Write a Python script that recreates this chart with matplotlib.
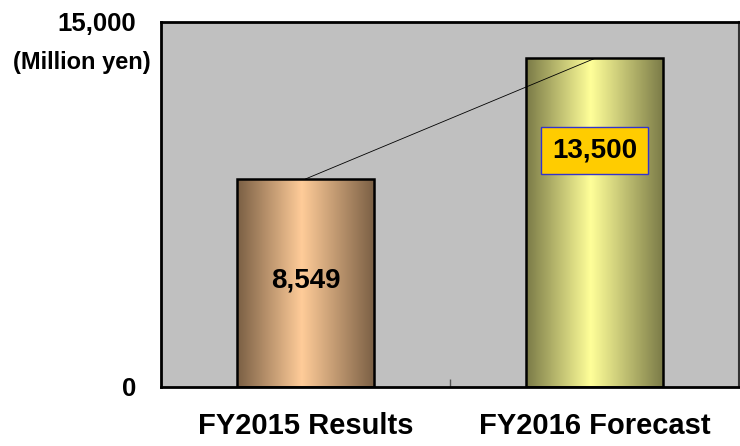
import numpy as np
import matplotlib
matplotlib.use("Agg")
import matplotlib.pyplot as plt
from matplotlib.colors import LinearSegmentedColormap, to_rgb
from matplotlib.patches import Rectangle

categories = ["FY2015 Results", "FY2016 Forecast"]
values = [8549, 13500]
y_ticks = [0, 15000]
y_tick_labels = ["0", "15,000"]
unit_label = "(Million yen)"

bar_edge_colors = ["#7A5F44", "#7A7A47"]
bar_center_colors = ["#FFCC99", "#FFFF99"]

plt.rcParams['font.family'] = ['Liberation Sans', 'DejaVu Sans']

fig = plt.figure(figsize=(7.40, 4.46), dpi=100)
ax = fig.add_axes([161/740, 59/446, 578/740, 365/446])
ax.set_facecolor("#C0C0C0")

x = np.arange(len(categories))
width = 0.477
bars = ax.bar(x, values, width=width, color="none", edgecolor="black",
              linewidth=1.8, zorder=3)

for i, b in enumerate(bars):
    cmap = LinearSegmentedColormap.from_list(
        "g%d" % i,
        [(0.0, to_rgb(bar_edge_colors[i])),
         (0.47, to_rgb(bar_center_colors[i])),
         (1.0, to_rgb(bar_edge_colors[i]))])
    grad = np.linspace(0, 1, 256).reshape(1, -1)
    bx, by = b.get_x(), b.get_y()
    bw, bh = b.get_width(), b.get_height()
    im = ax.imshow(grad, cmap=cmap, aspect="auto",
                   extent=(bx, bx + bw, by, by + bh), zorder=2,
                   interpolation="bilinear")
    clip = Rectangle((bx, by), bw, bh, transform=ax.transData)
    im.set_clip_path(clip)

ax.plot(x, values, color="black", linewidth=0.6, zorder=4)

# data labels
ax.text(x[0], values[0] * 0.5 + 100, f"{values[0]:,}", ha="center", va="center",
        fontsize=20, fontweight="bold", zorder=5)
ax.text(x[1], values[1] * 0.72, f"{values[1]:,}", ha="center", va="center",
        fontsize=20, fontweight="bold", zorder=5,
        bbox=dict(boxstyle="square,pad=0.38", facecolor="#FFCC00",
                  edgecolor="#3333CC", linewidth=1.0))

ax.set_xlim(-0.5, 1.5)
ax.set_ylim(0, 15000)
ax.set_xticks([0.5])
ax.set_xticklabels([""])
ax.tick_params(axis="x", direction="in", length=6, width=1, color="#555555")
ax.set_yticks(y_ticks)
ax.set_yticklabels(y_tick_labels, fontsize=18.5, fontweight="bold")
ax.tick_params(axis="y", length=0, pad=18)

for i, c in enumerate(categories):
    ax.text(x[i], -0.107, c, transform=ax.get_xaxis_transform(),
            ha="center", va="center", fontsize=21, fontweight="bold")

for s in ["left", "top", "bottom"]:
    ax.spines[s].set_linewidth(2)
    ax.spines[s].set_color("black")
ax.spines["right"].set_linewidth(1.5)
ax.spines["right"].set_color("#333333")

fig.text(151/740, 1 - 62/446, unit_label, ha="right", va="center",
         fontsize=17, fontweight="bold")

fig.savefig("out.png", dpi=100)
